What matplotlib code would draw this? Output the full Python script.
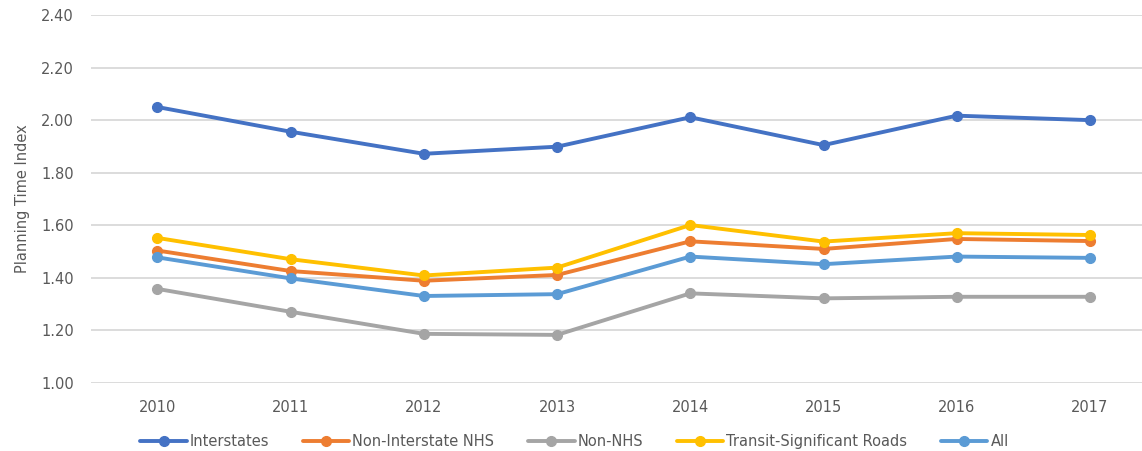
import matplotlib.pyplot as plt
import numpy as np

years = ["2010", "2011", "2012", "2013", "2014", "2015", "2016", "2017"]

interstates = [2.05, 1.956, 1.872, 1.899, 2.011, 1.905, 2.017, 2.00]
non_interstate_nhs = [1.504, 1.426, 1.389, 1.411, 1.539, 1.510, 1.548, 1.540]
non_nhs = [1.358, 1.271, 1.187, 1.183, 1.341, 1.322, 1.328, 1.328]
transit_roads = [1.552, 1.471, 1.409, 1.439, 1.601, 1.538, 1.570, 1.563]
all_roads = [1.478, 1.398, 1.331, 1.338, 1.481, 1.452, 1.481, 1.476]

series = [
    ("Interstates", interstates, "#4472C4"),
    ("Non-Interstate NHS", non_interstate_nhs, "#ED7D31"),
    ("Non-NHS", non_nhs, "#A5A5A5"),
    ("Transit-Significant Roads", transit_roads, "#FFC000"),
    ("All", all_roads, "#5B9BD5"),
]

text_color = "#595959"

fig = plt.figure(figsize=(11.42, 4.51), dpi=100)
ax = fig.add_axes([90.7 / 1142, 68 / 451, (1142 - 90.7) / 1142, 368 / 451])

x = np.arange(len(years))
for name, vals, color in series:
    ax.plot(x, vals, color=color, lw=2.8, marker="o", ms=7, label=name,
            solid_capstyle="round")

ax.set_xlim(-0.5, 7.39)
ax.set_ylim(1.0, 2.4)
ax.set_yticks(np.arange(1.0, 2.41, 0.2))
ax.set_yticklabels([f"{v:.2f}" for v in np.arange(1.0, 2.41, 0.2)])
ax.set_xticks(x)
ax.set_xticklabels(years)

ax.grid(axis="y", color="#d9d9d9", lw=1.3)
ax.set_axisbelow(True)
for s in ax.spines.values():
    s.set_visible(False)
ax.tick_params(axis="both", length=0, labelsize=10.5, labelcolor=text_color)
ax.tick_params(axis="x", pad=12)
ax.tick_params(axis="y", pad=12)

ax.set_ylabel("Planning Time Index", fontsize=10.5, color=text_color, labelpad=8)

fig.legend(loc="center", bbox_to_anchor=(0.503, 0.02), ncol=5, frameon=False,
           fontsize=10.5, labelcolor=text_color, handlelength=3.2,
           handletextpad=0.2, columnspacing=2.3, borderaxespad=0)

fig.savefig("out.png", dpi=100)
